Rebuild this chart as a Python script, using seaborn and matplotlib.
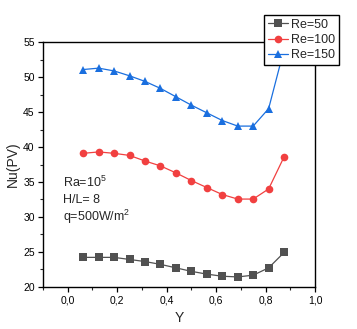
import matplotlib
matplotlib.use("Agg")
import matplotlib.pyplot as plt
import seaborn as sns
import pandas as pd
from matplotlib.ticker import MultipleLocator, FixedLocator, FixedFormatter

# ---- data ----
y_pos = [0.0625, 0.125, 0.1875, 0.25, 0.3125, 0.375, 0.4375,
         0.5, 0.5625, 0.625, 0.6875, 0.75, 0.8125, 0.875]
nu_re50 = [24.2, 24.2, 24.2, 23.9, 23.6, 23.2, 22.7,
           22.2, 21.8, 21.5, 21.4, 21.65, 22.7, 24.9]
nu_re100 = [39.1, 39.3, 39.1, 38.8, 38.0, 37.3, 36.3,
            35.2, 34.2, 33.2, 32.55, 32.55, 34.0, 38.6]
nu_re150 = [51.1, 51.3, 50.9, 50.2, 49.4, 48.4, 47.2,
            46.0, 44.9, 43.8, 43.0, 43.0, 45.5, 54.0]
series_names = ["Re=50", "Re=100", "Re=150"]
x_ticks = [0.0, 0.2, 0.4, 0.6, 0.8, 1.0]
x_ticklabels = ["0,0", "0,2", "0,4", "0,6", "0,8", "1,0"]
y_ticks = [20, 25, 30, 35, 40, 45, 50, 55]
y_ticklabels = ["20", "25", "30", "35", "40", "45", "50", "55"]

df = pd.DataFrame({
    "Y": y_pos * 3,
    "Nu": nu_re50 + nu_re100 + nu_re150,
    "series": sum([[n] * len(y_pos) for n in series_names], []),
})

sns.set_theme(style="white")
plt.rcParams["font.family"] = ["Liberation Sans", "DejaVu Sans"]
plt.rcParams["mathtext.fontset"] = "custom"
plt.rcParams["mathtext.rm"] = "Liberation Sans"
plt.rcParams["mathtext.it"] = "Liberation Sans"
plt.rcParams["mathtext.default"] = "regular"

colors = {"Re=50": "#515151", "Re=100": "#F14040", "Re=150": "#1A6FDF"}
markers = {"Re=50": "s", "Re=100": "o", "Re=150": "^"}

fig = plt.figure(figsize=(3.57, 3.29), dpi=100)
ax = fig.add_axes([43 / 357, 1 - 286.7 / 329, (315 - 43) / 357, (286.7 - 42.3) / 329])

sns.lineplot(data=df, x="Y", y="Nu", hue="series", style="series",
             palette=colors, markers=markers, dashes=False,
             markersize=5.5, markeredgewidth=0, linewidth=0.9,
             ax=ax, legend=True, sort=False)

ax.set_xlim(-0.1, 1.0)
ax.set_ylim(20, 55)
ax.xaxis.set_major_locator(FixedLocator(x_ticks))
ax.xaxis.set_major_formatter(FixedFormatter(x_ticklabels))
ax.yaxis.set_major_locator(FixedLocator(y_ticks))
ax.yaxis.set_major_formatter(FixedFormatter(y_ticklabels))
ax.xaxis.set_minor_locator(MultipleLocator(0.1))
ax.yaxis.set_minor_locator(MultipleLocator(2.5))
ax.tick_params(which="major", direction="out", length=3.5, width=0.9,
               labelsize=7.5, bottom=True, left=True, top=False, right=False,
               pad=2.5, colors="black")
ax.tick_params(which="minor", direction="out", length=2, width=0.8,
               bottom=True, left=True, top=False, right=False)
for s in ax.spines.values():
    s.set_visible(True)
    s.set_color("black")
    s.set_linewidth(1.0)

ax.set_xlabel("Y", fontsize=10, labelpad=4)
ax.set_ylabel("Nu(PV)", fontsize=10, labelpad=2)

ax.text(0.075, 0.425, "Ra=10$^{5}$", transform=ax.transAxes, fontsize=9, va="center", ha="left")
ax.text(0.075, 0.355, "H/L= 8", transform=ax.transAxes, fontsize=9, va="center", ha="left")
ax.text(0.075, 0.285, "q=500W/m$^{2}$", transform=ax.transAxes, fontsize=9, va="center", ha="left")

leg = ax.legend(loc="upper right", bbox_to_anchor=(338.5 / 357, 1 - 15 / 329),
                bbox_transform=fig.transFigure, frameon=True, fancybox=False,
                shadow=False, fontsize=9, handlelength=1.6, handletextpad=0.25,
                borderpad=0.3, labelspacing=0.25, borderaxespad=0, title=None)
leg.get_frame().set_edgecolor("black")
leg.get_frame().set_linewidth(1.0)
leg.get_frame().set_alpha(1)
leg.set_zorder(10)

fig.savefig("out.png", dpi=100)
